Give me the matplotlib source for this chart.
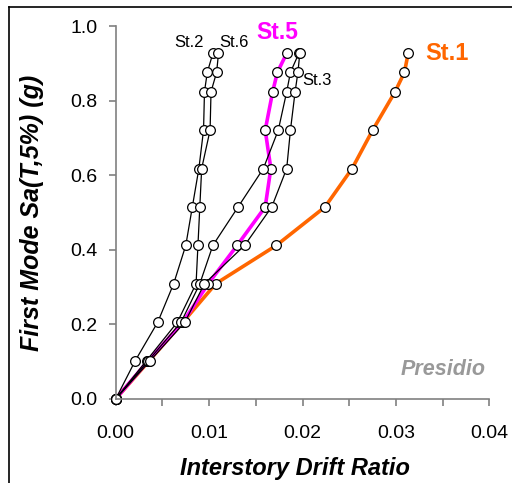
import matplotlib
matplotlib.use('Agg')
import matplotlib.pyplot as plt
from matplotlib.lines import Line2D

plt.rcParams['font.family'] = ['Liberation Sans', 'DejaVu Sans']

# Spectral acceleration levels (g)
sa = [0, 0.103, 0.206, 0.309, 0.412, 0.515, 0.618, 0.721, 0.824, 0.876, 0.927]

# Interstory drift ratio per story
st1 = [0, 0.0036, 0.0072, 0.0107, 0.0172, 0.0224, 0.0253, 0.0275, 0.0299, 0.0309, 0.0313]
st2 = [0, 0.0021, 0.0045, 0.0062, 0.0075, 0.0082, 0.0089, 0.0094, 0.0095, 0.0098, 0.0104]
st3 = [0, 0.0037, 0.0074, 0.0095, 0.0138, 0.0167, 0.0183, 0.0187, 0.0192, 0.0195, 0.0197]
st4 = [0, 0.0035, 0.0070, 0.0090, 0.0104, 0.0131, 0.0158, 0.0174, 0.0183, 0.0187, 0.0196]
st5 = [0, 0.0035, 0.0072, 0.0099, 0.0130, 0.0160, 0.0166, 0.0160, 0.0168, 0.0173, 0.0183]
st6 = [0, 0.0033, 0.0066, 0.0086, 0.0088, 0.0090, 0.0092, 0.0101, 0.0102, 0.0108, 0.0110]

orange = '#FF6600'
magenta = '#FF00FF'

fig = plt.figure(figsize=(5.12, 4.83), dpi=100)
ax = fig.add_axes([0.226, 0.174, 0.73, 0.772])

mk = dict(marker='o', markersize=7, markerfacecolor='white',
          markeredgecolor='black', markeredgewidth=0.9, clip_on=False)

ax.plot(st1, sa, color=orange, linewidth=2.6, **mk)
ax.plot(st5, sa, color=magenta, linewidth=2.6, **mk)
for s in [st2, st6, st4, st3]:
    ax.plot(s, sa, color='black', linewidth=0.9, **mk)

ax.set_xlim(0, 0.04)
ax.set_ylim(0, 1.0)
ax.set_xticks([0, 0.005, 0.01, 0.015, 0.02, 0.025, 0.03, 0.035, 0.04])
ax.set_xticklabels(['0.00', '', '0.01', '', '0.02', '', '0.03', '', '0.04'])
ax.set_yticks([0, 0.2, 0.4, 0.6, 0.8, 1.0])
ax.set_yticklabels(['0.0', '0.2', '0.4', '0.6', '0.8', '1.0'])

for side in ['top', 'right']:
    ax.spines[side].set_visible(False)
for side in ['left', 'bottom']:
    ax.spines[side].set_color('#808080')
    ax.spines[side].set_linewidth(1.2)
ax.tick_params(colors='#808080', labelcolor='black', labelsize=14,
               length=5, width=1.2, direction='out')
ax.tick_params(axis='x', pad=14)
ax.tick_params(axis='y', pad=8)

ax.set_xlabel('Interstory Drift Ratio', fontsize=17, fontweight='bold',
              fontstyle='italic')
ax.xaxis.set_label_coords(0.48, -0.155)
ax.set_ylabel('First Mode Sa(T,5%) (g)', fontsize=18, fontweight='bold',
              fontstyle='italic', labelpad=19)

ax.text(0.0331, 0.927, 'St.1', color=orange, fontsize=17, fontweight='bold',
        ha='left', va='center')
ax.text(0.0173, 0.982, 'St.5', color=magenta, fontsize=16.5, fontweight='bold',
        ha='center', va='center')
ax.text(0.0078, 0.957, 'St.2', fontsize=12, ha='center', va='center')
ax.text(0.0127, 0.957, 'St.6', fontsize=12, ha='center', va='center')
ax.text(0.0200, 0.855, 'St.3', fontsize=12, ha='left', va='center')
ax.text(0.0396, 0.078, 'Presidio', color='#999999', fontsize=15.5,
        fontweight='bold', fontstyle='italic', ha='right', va='center')

# outer frame (partly cropped in the original)
fig.add_artist(Line2D([9 / 512, 1.0], [1 - 7 / 483, 1 - 7 / 483],
                      transform=fig.transFigure, color='black', linewidth=1.2))
fig.add_artist(Line2D([9 / 512, 9 / 512], [0, 1 - 7 / 483],
                      transform=fig.transFigure, color='black', linewidth=1.2))

fig.savefig('out.png', dpi=100)
